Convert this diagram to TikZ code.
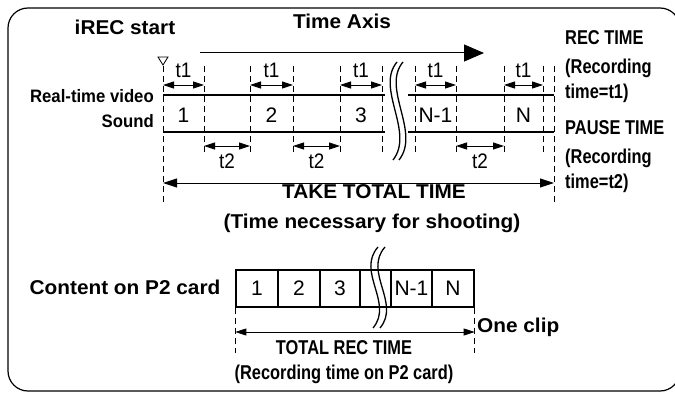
\documentclass[tikz,border=0pt]{standalone}
\usepackage{fontspec}
\setmainfont{Liberation Sans}
\newfontfamily\wideb[FakeStretch=1.04]{Liberation Sans}
\newfontfamily\condb[FakeStretch=0.82]{Liberation Sans}
\newfontfamily\rtf[FakeStretch=0.93]{Liberation Sans}
\newfontfamily\tfnt[FakeStretch=0.9]{Liberation Sans}
\usetikzlibrary{arrows.meta}
\tikzset{
  bigtxt/.style={font=\wideb\bfseries\fontsize{20}{24}\selectfont, inner sep=0pt, anchor=base},
  condtxt/.style={font=\condb\bfseries\fontsize{20}{24}\selectfont, inner sep=0pt, anchor=base west},
  condc/.style={font=\condb\bfseries\fontsize{20}{24}\selectfont, inner sep=0pt, anchor=base},
  rtlab/.style={font=\rtf\bfseries\fontsize{18}{20}\selectfont, inner sep=0pt, anchor=base east},
  numtxt/.style={font=\fontsize{21}{24}\selectfont, inner sep=0pt, anchor=base},
  tlab/.style={font=\tfnt\fontsize{21}{24}\selectfont, inner sep=0pt, anchor=base},
  frame/.style={line width=1.2pt, rounded corners=20pt},
  sigline/.style={line width=2pt},
  guide/.style={line width=0.8pt, dash pattern=on 6pt off 4pt},
  tarrow/.style={line width=0.8pt, {Triangle[length=11pt,width=7pt]}-{Triangle[length=11pt,width=7pt]}},
  bigarrow/.style={line width=0.9pt, {Triangle[length=14pt,width=9pt]}-{Triangle[length=14pt,width=9pt]}},
  axisarrow/.style={line width=1pt, -{Triangle[length=20pt,width=17pt]}},
  breakline/.style={line width=1.3pt},
  cell/.style={draw, line width=1.3pt, minimum height=37pt, inner sep=0pt, font=\fontsize{21}{24}\selectfont},
}
\begin{document}
\begin{tikzpicture}[x=1pt,y=-1pt]
\useasboundingbox (0,0) rectangle (675,393);
\draw[frame] (8,8) rectangle (680,391);

% columns
\coordinate (c0) at (163,66);
\coordinate (c1) at (204,66);
\coordinate (c2) at (250,66);
\coordinate (c3) at (293,66);
\coordinate (c4) at (340,66);
\coordinate (c5) at (382,66);
\coordinate (c6) at (415,66);
\coordinate (c7) at (456,66);
\coordinate (c8) at (504,66);
\coordinate (c9) at (543,66);
\coordinate (c10) at (554,66);
\coordinate (bl) at (385,66);
\coordinate (br) at (408,66);
% rows
\coordinate (ybot) at (0,155);
\coordinate (yend) at (0,203);
\coordinate (yrt) at (0,95);
\coordinate (ysd) at (0,132);
\coordinate (yt1) at (0,85);
\coordinate (yt2) at (0,146);
\coordinate (ytake) at (0,183);

% titles
\node[bigtxt] (irec) at (125,35) {iREC start};
\node[bigtxt] (taxis) at (342,29) {Time Axis};
\coordinate (ta0) at (200,53);
\coordinate (ta1) at (484,53);
\draw[axisarrow] (ta0) -- (ta1);

% start marker
\coordinate (m0) at (163,65);
\draw[line width=0.8pt] (m0) -- ++(-5,-8) -- ++(10,0) -- cycle;

% dashed guides
\foreach \c in {c1,c2,c3,c4,c5,c6,c7,c8,c9}{
  \draw[guide] (\c) -- (\c |- ybot);
}
\draw[guide] (c0) -- (c0 |- yend);
\draw[guide] (c10) -- (c10 |- yend);

% signal lines
\draw[sigline] (c0 |- yrt) -- (bl |- yrt);
\draw[sigline] (br |- yrt) -- (c10 |- yrt);
\draw[sigline] (c0 |- ysd) -- (bl |- ysd);
\draw[sigline] (br |- ysd) -- (c10 |- ysd);

\node[rtlab] (rtv) at (154,103) {Real-time video};
\node[rtlab] (snd) at (154,128) {Sound};

% numbers
\node[numtxt] (n1) at (183.5,122.5) {1};
\node[numtxt] (n2) at (271.5,122.5) {2};
\node[numtxt] (n3) at (361,122.5) {3};
\node[numtxt] (nn1) at (435.5,122.5) {N-1};
\node[numtxt] (nn) at (523.5,122.5) {N};

% t1 arrows
\draw[tarrow] (c0 |- yt1) -- (c1 |- yt1);
\draw[tarrow] (c2 |- yt1) -- (c3 |- yt1);
\draw[tarrow] (c4 |- yt1) -- (c5 |- yt1);
\draw[tarrow] (c6 |- yt1) -- (c7 |- yt1);
\draw[tarrow] (c8 |- yt1) -- (c9 |- yt1);
\node[tlab] (l1) at (183.5,78) {t1};
\node[tlab] (l2) at (271.5,78) {t1};
\node[tlab] (l3) at (361,78) {t1};
\node[tlab] (l4) at (435.5,78) {t1};
\node[tlab] (l5) at (523.5,78) {t1};

% t2 arrows
\draw[tarrow] (c1 |- yt2) -- (c2 |- yt2);
\draw[tarrow] (c3 |- yt2) -- (c4 |- yt2);
\draw[tarrow] (c7 |- yt2) -- (c8 |- yt2);
\node[tlab] (p1) at (227,168) {t2};
\node[tlab] (p2) at (316.5,168) {t2};
\node[tlab] (p3) at (480,168) {t2};

% break symbol top
\draw[breakline] (397,62) .. controls (375,88) and (415,132) .. (393,160);
\draw[breakline] (403,62) .. controls (381,88) and (421,132) .. (399,160);

% take total time
\draw[bigarrow] (c0 |- ytake) -- (c10 |- ytake);
\node[bigtxt] (take) at (374,199) {TAKE TOTAL TIME};
\node[bigtxt] (takesub) at (372,229) {(Time necessary for shooting)};

% right labels
\node[condtxt] (r1) at (565,45) {REC TIME};
\node[condtxt] (r2) at (565,74) {(Recording};
\node[condtxt] (r3) at (565,99) {time=t1)};
\node[condtxt] (r4) at (565,135) {PAUSE TIME};
\node[condtxt] (r5) at (565,164) {(Recording};
\node[condtxt] (r6) at (565,189) {time=t2)};

% bottom
\node[bigtxt] (content) at (125,294) {Content on P2 card};
\node[cell, minimum width=42pt] (k1) at (257,288.5) {1};
\node[cell, minimum width=42pt] (k2) at (299,288.5) {2};
\node[cell, minimum width=40pt] (k3) at (340,288.5) {3};
\node[cell, minimum width=31pt] (kb) at (375.5,288.5) {};
\node[cell, minimum width=41pt] (k4) at (411.5,288.5) {N-1};
\node[cell, minimum width=42pt] (k5) at (453,288.5) {N};
\draw[breakline] (378,247) .. controls (356,272) and (394,303) .. (373,328);
\draw[breakline] (385,247) .. controls (363,272) and (401,303) .. (380,328);

\coordinate (yb) at (0,353);
\coordinate (yrec) at (0,332);
\draw[guide] (k1.south west) -- (k1.south west |- yb);
\draw[guide] (k5.south east) -- (k5.south east |- yb);
\draw[tarrow] (k1.south west |- yrec) -- (k5.south east |- yrec);
\node[condtxt] (clip) at (477,332) {\wideb One clip};
\node[condc] (trt) at (344,354) {TOTAL REC TIME};
\node[condc] (trtsub) at (344,379) {(Recording time on P2 card)};
\end{tikzpicture}
\end{document}
